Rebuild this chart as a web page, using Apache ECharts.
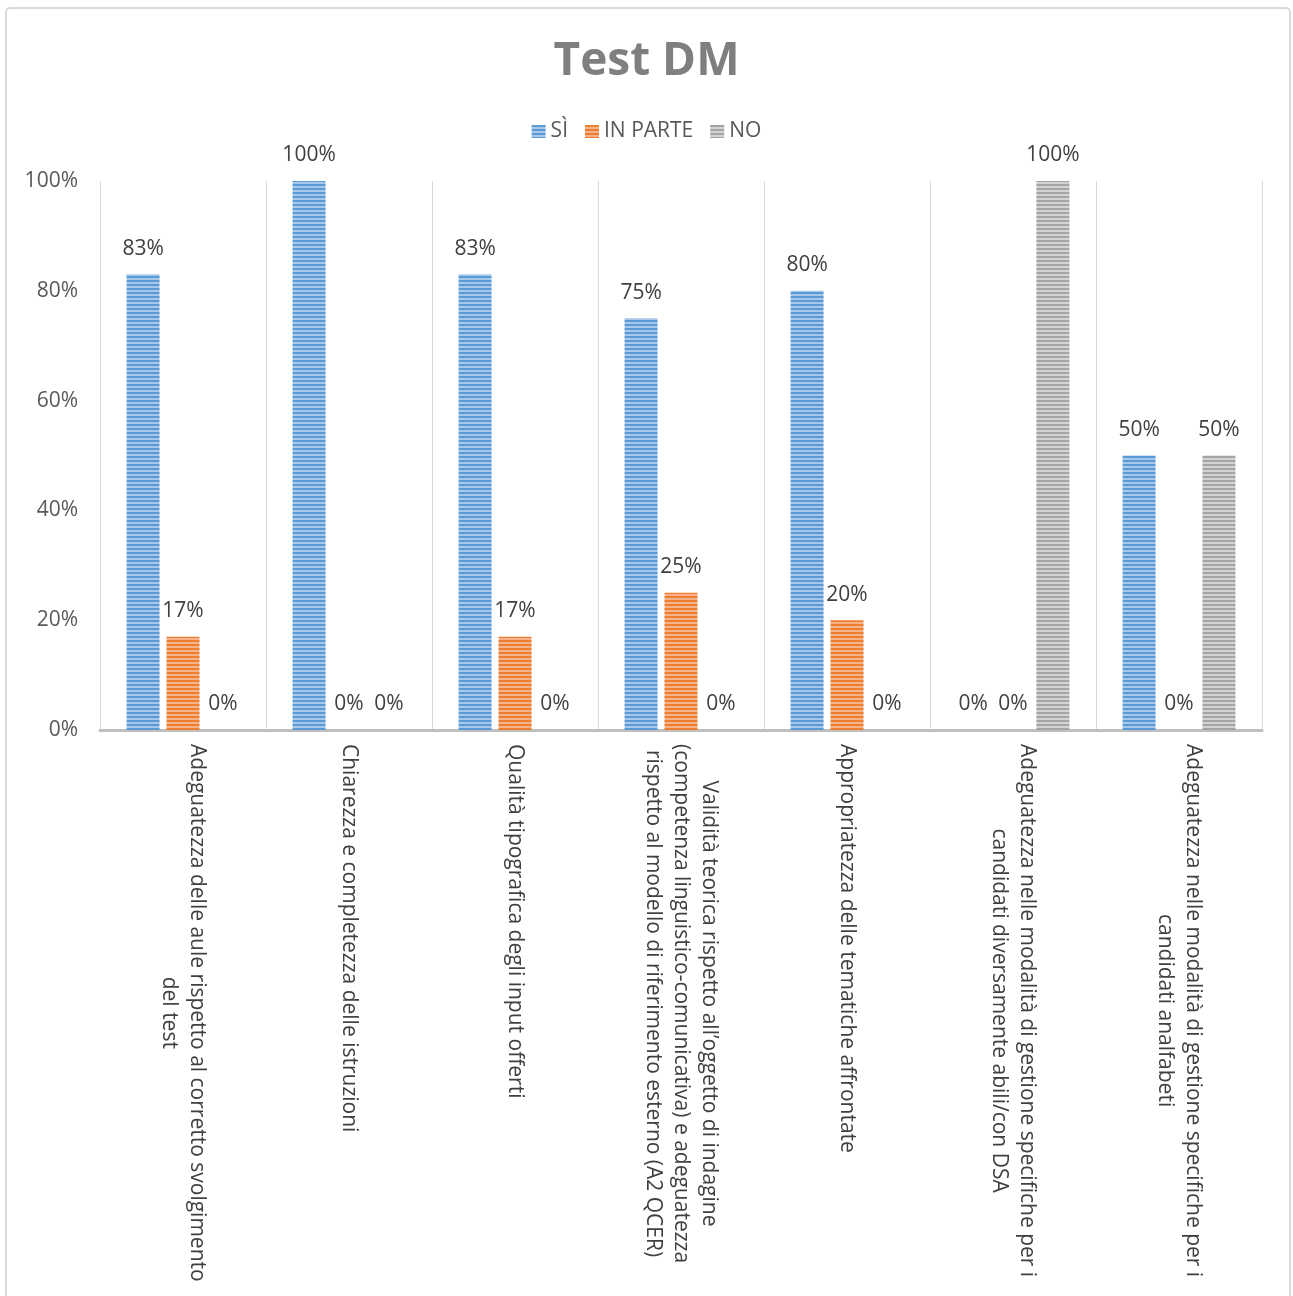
<!DOCTYPE html>
<html>
<head>
<meta charset="utf-8">
<script src="https://cdn.jsdelivr.net/npm/echarts@6/dist/echarts.min.js"></script>
<style>
html,body{margin:0;padding:0;background:#fff;}
#chart{width:1293px;height:1296px;}
</style>
</head>
<body>
<div id="chart"></div>
<script>
const categories = [
  "Adeguatezza delle aule rispetto al corretto svolgimento\ndel test",
  "Chiarezza e completezza delle istruzioni",
  "Qualità tipografica degli input offerti",
  "Validità teorica rispetto all’oggetto di indagine\n(competenza linguistico-comunicativa) e adeguatezza\nrispetto al modello di riferimento esterno (A2 QCER)",
  "Appropriatezza delle tematiche affrontate",
  "Adeguatezza nelle modalità di gestione specifiche per i\ncandidati diversamente abili/con DSA",
  "Adeguatezza nelle modalità di gestione specifiche per i\ncandidati analfabeti"
];
const seriesNames = ["SÌ", "IN PARTE", "NO"];
const si = [83, 100, 83, 75, 80, 0, 50];
const inParte = [17, 0, 17, 25, 20, 0, 0];
const no = [0, 0, 0, 0, 0, 100, 50];
const yTicks = [0, 20, 40, 60, 80, 100];

function stripes(dark, light) {
  const c = document.createElement('canvas');
  c.width = 4; c.height = 4;
  const ctx = c.getContext('2d');
  ctx.fillStyle = dark; ctx.fillRect(0, 0, 4, 4);
  ctx.fillStyle = light; ctx.fillRect(0, 2, 4, 2);
  return { image: c, repeat: 'repeat' };
}
const colBlue = stripes('#5b9bd5', '#a8c8ea');
const colOrange = stripes('#ed7d31', '#f6b38a');
const colGrey = stripes('#a5a5a5', '#d2d2d2');

const FONT = 'Open Sans';
const chart = echarts.init(document.getElementById('chart'));

function mkSeries(name, data, color) {
  return {
    name: name,
    type: 'bar',
    data: data,
    barGap: '21%',
    barCategoryGap: '32%',
    itemStyle: { color: color },
    label: {
      show: true,
      position: 'top',
      distance: 15,
      formatter: '{c}%',
      color: '#404040',
      fontSize: 21,
      fontFamily: FONT
    }
  };
}

chart.setOption({
  backgroundColor: '#ffffff',
  animation: false,
  graphic: [{
    type: 'rect',
    shape: { x: 6, y: 8, width: 1284, height: 1300, r: 4 },
    style: { fill: 'none', stroke: '#d9d9d9', lineWidth: 2 },
    silent: true
  }],
  title: {
    text: 'Test DM',
    left: 'center',
    top: 34,
    textStyle: { fontSize: 46, fontWeight: 'bold', color: '#7f7f7f', fontFamily: FONT }
  },
  legend: {
    top: 116,
    left: 'center',
    itemWidth: 14,
    itemHeight: 13,
    itemGap: 17,
    icon: 'rect',
    textStyle: { fontSize: 21, color: '#595959', fontFamily: FONT },
    data: seriesNames
  },
  grid: { left: 100, right: 31, top: 181, bottom: 566, containLabel: false },
  xAxis: {
    type: 'category',
    data: categories,
    axisLine: { show: true, lineStyle: { color: '#bfbfbf', width: 3 } },
    axisTick: { show: false },
    splitLine: { show: true, lineStyle: { color: '#d9d9d9', width: 1 } },
    axisLabel: {
      interval: 0,
      rotate: -90,
      margin: 14,
      formatter: function (v) {
        return v.split('\n').map(function (l) { return '{c|' + l + '}'; }).join('\n');
      },
      rich: {
        c: { align: 'center', fontSize: 21, lineHeight: 28, color: '#404040', fontFamily: FONT }
      }
    }
  },
  yAxis: {
    type: 'value',
    min: 0,
    max: 100,
    interval: 20,
    axisLine: { show: false },
    axisTick: { show: false },
    splitLine: { show: false },
    axisLabel: {
      margin: 22,
      formatter: function (v) { return yTicks.indexOf(v) >= 0 ? v + '%' : ''; },
      fontSize: 21,
      color: '#595959',
      fontFamily: FONT
    }
  },
  series: [
    mkSeries(seriesNames[0], si, colBlue),
    mkSeries(seriesNames[1], inParte, colOrange),
    mkSeries(seriesNames[2], no, colGrey)
  ]
});
</script>
</body>
</html>
